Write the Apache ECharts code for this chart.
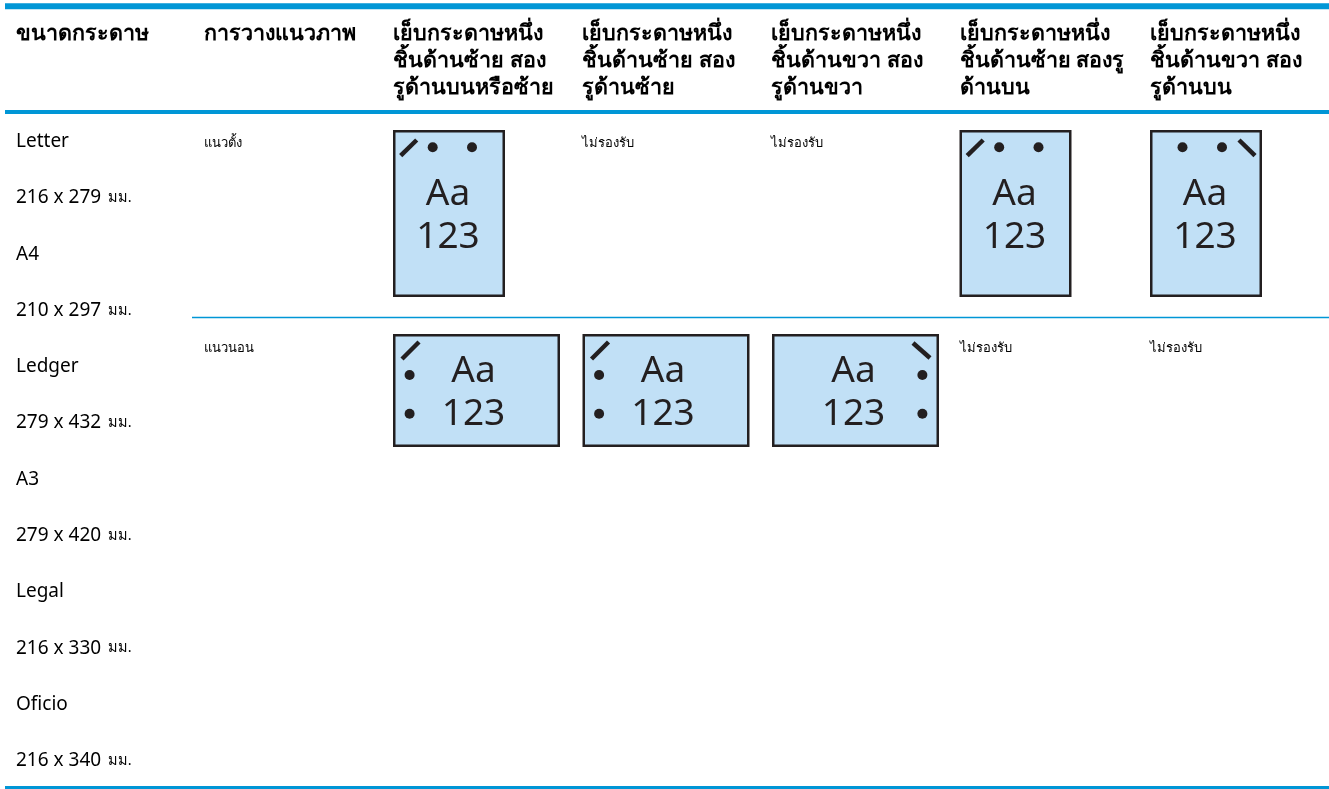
<!DOCTYPE html>
<html><head><meta charset="utf-8">
<style>html,body{margin:0;padding:0;background:#fff}#c{width:1329px;height:789px}</style>
<script src="https://cdn.jsdelivr.net/npm/echarts@6/dist/echarts.min.js"></script>
</head><body><div id="c"></div>
<script>
var headers = [
  ['ขนาดกระดาษ'],
  ['การวางแนวภาพ'],
  ['เย็บกระดาษหนึ่ง','ชิ้นด้านซ้าย สอง','รูด้านบนหรือซ้าย'],
  ['เย็บกระดาษหนึ่ง','ชิ้นด้านซ้าย สอง','รูด้านซ้าย'],
  ['เย็บกระดาษหนึ่ง','ชิ้นด้านขวา สอง','รูด้านขวา'],
  ['เย็บกระดาษหนึ่ง','ชิ้นด้านซ้าย สองรู','ด้านบน'],
  ['เย็บกระดาษหนึ่ง','ชิ้นด้านขวา สอง','รูด้านบน']
];
var paperSizes = ['Letter','216 x 279','A4','210 x 297','Ledger','279 x 432','A3','279 x 420','Legal','216 x 330','Oficio','216 x 340'];
var unit = 'มม.';
var orientations = ['แนวตั้ง','แนวนอน'];
var notSupported = 'ไม่รองรับ';
var portraitRow = [null, 'PL', 'none', 'none', 'PL', 'PR'];
var landscapeRow = [null, 'LL', 'LL', 'LR', 'none', 'none'];
var iconLine1 = 'Aa', iconLine2 = '123';

var colX = [16, 204, 393, 582, 771, 959.5, 1150];
var iconX = [0, 0, 393, 582.5, 772, 959.5, 1150];
var rowTop = [130, 334];
var orientY = [143, 348.5];
var INK = '#231f20', FILL = '#c1e0f6', BLUE = '#0096d6';
var LATIN = '"Noto Sans", "Noto Sans CJK SC", sans-serif';

var dims = {P:[112,167], L:[167,113]};
var glyphs = {
  PL:{s:[7.7,25.7,23.7,10], d:[[39.7,17.3],[79,17.3]], t:[55,64,107]},
  PR:{s:[89,10,105,25.7], d:[[32.5,17.3],[72,17.3]], t:[55,64,107]},
  LL:{s:[9,25,26,8], d:[[16.6,41],[16.6,79.7]], t:[80.5,37.5,80]},
  LR:{s:[141,9,158,24], d:[[150.4,41],[150.4,79.7]], t:[81.5,37.5,80]}
};

var texts = [];
headers.forEach(function(h,c){ h.forEach(function(l,i){ texts.push({x:colX[c],y:34+i*27,text:l,kind:'head'}); }); });
paperSizes.forEach(function(s,i){
  var isSize = i%2===1;
  texts.push({x:colX[0],y:141.5+i*56.3,text:s,unit:isSize,kind:'size'});
});
orientations.forEach(function(o,i){ texts.push({x:colX[1],y:orientY[i],text:o,kind:'small'}); });
var icons = [];
[portraitRow,landscapeRow].forEach(function(row,r){
  row.forEach(function(v,i){
    if(v===null) return;
    var c=i+1;
    if(v==='none'){ texts.push({x:colX[c],y:orientY[r],text:notSupported,kind:'small'}); }
    else icons.push({x:iconX[c],y:rowTop[r],type:v});
  });
});

function drawText(params, api){
  var d = texts[params.dataIndex], p = api.coord([d.x,d.y]);
  var st = {head:{font:'bold 21.5px '+LATIN},size:{font:'19px '+LATIN},small:{font:'13px '+LATIN}}[d.kind];
  var rich = d.unit
   ? {text:'{a|'+d.text+'}  {b|'+unit+'}', rich:{a:{font:st.font,fill:'#000'},b:{font:'14.5px '+LATIN,fill:'#000'}}}
   : {text:d.text,font:st.font};
  return {type:'text',style:Object.assign({x:p[0],y:p[1],fill:'#000',verticalAlign:'middle',align:'left'},rich)};
}
function drawIcon(params, api){
  var d = icons[params.dataIndex], p = api.coord([d.x,d.y]), g = glyphs[d.type], sz = dims[d.type[0]];
  var ch = [{type:'rect',shape:{x:p[0]+1.25,y:p[1]+1.25,width:sz[0]-2.5,height:sz[1]-2.5},style:{fill:FILL,stroke:INK,lineWidth:2.5}},
    {type:'line',shape:{x1:p[0]+g.s[0],y1:p[1]+g.s[1],x2:p[0]+g.s[2],y2:p[1]+g.s[3]},style:{stroke:INK,lineWidth:4.5}}];
  g.d.forEach(function(q){ ch.push({type:'circle',shape:{cx:p[0]+q[0],cy:p[1]+q[1],r:5},style:{fill:INK}}); });
  [iconLine1,iconLine2].forEach(function(t,i){
    ch.push({type:'text',style:{x:p[0]+g.t[0],y:p[1]+g.t[i+1],text:t,align:'center',verticalAlign:'middle',font:'37px '+LATIN,fill:INK}});
  });
  return {type:'group',children:ch};
}
var rules = [
  {x1:5,x2:1329,y:6.3,w:6},{x1:5,x2:1329,y:112,w:4},{x1:192,x2:1329,y:317.5,w:1.5},{x1:5,x2:1329,y:787.5,w:3}
];
function drawRule(params, api){
  var d = rules[params.dataIndex], a = api.coord([d.x1,d.y]), b = api.coord([d.x2,d.y]);
  return {type:'line',shape:{x1:a[0],y1:a[1],x2:b[0],y2:b[1]},style:{stroke:BLUE,lineWidth:d.w}};
}
var chart = echarts.init(document.getElementById('c'),null,{renderer:'canvas'});
chart.setOption({
  animation:false,
  grid:{left:0,right:0,top:0,bottom:0},
  xAxis:{type:'value',min:0,max:1329,show:false},
  yAxis:{type:'value',min:0,max:789,inverse:true,show:false},
  series:[
    {type:'custom',silent:true,renderItem:drawRule,data:rules.map(function(r){return [r.x1,r.y];}),clip:false},
    {type:'custom',silent:true,renderItem:drawIcon,data:icons.map(function(r){return [r.x,r.y];}),clip:false},
    {type:'custom',silent:true,renderItem:drawText,data:texts.map(function(r){return [r.x,r.y];}),clip:false}
  ]
});
</script></body></html>
